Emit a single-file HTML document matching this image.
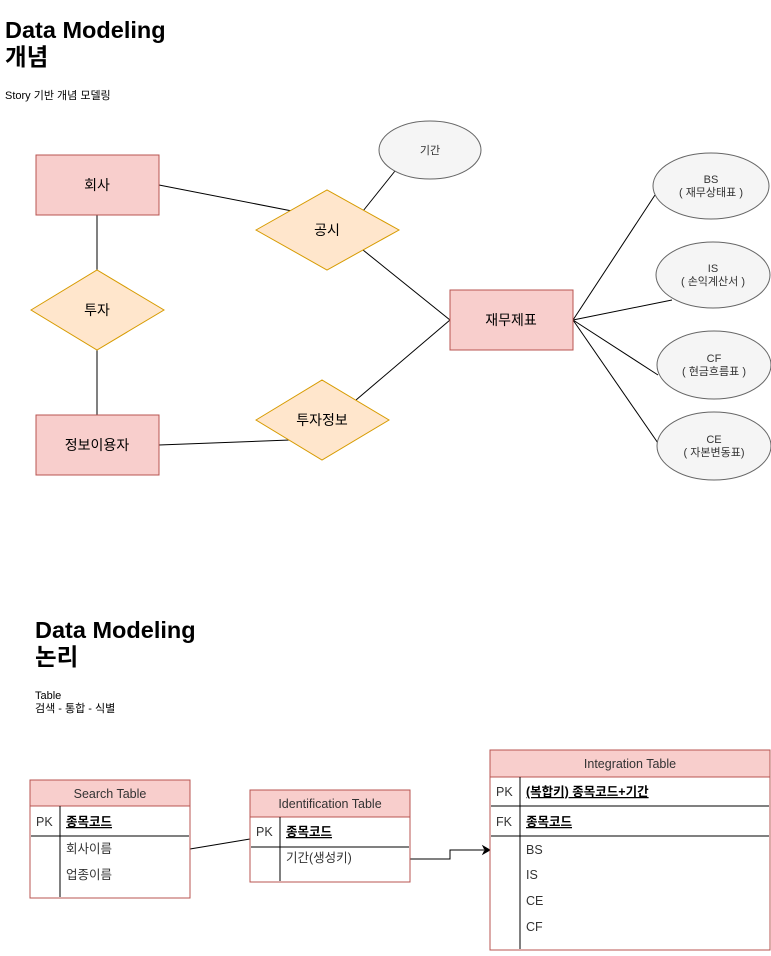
<!DOCTYPE html>
<html><head><meta charset="utf-8"><style>
body{margin:0;background:#fff;}
svg text{font-family:"Liberation Sans","Noto Sans CJK KR",sans-serif;}
</style></head><body>
<svg width="771" height="951" xmlns="http://www.w3.org/2000/svg">
<text x="5" y="38" font-size="23.5" font-weight="bold">Data Modeling</text>
<text x="5" y="65" font-size="23.5" font-weight="bold">개념</text>
<text x="5" y="99" font-size="11">Story 기반 개념 모델링</text>

<g stroke="#000" stroke-width="1" fill="none">
<line x1="159" y1="185" x2="292" y2="211"/>
<line x1="363" y1="211" x2="395" y2="171"/>
<line x1="363" y1="250" x2="450" y2="320"/>
<line x1="356" y1="400" x2="450" y2="320"/>
<line x1="159" y1="445" x2="290" y2="440"/>
<line x1="97" y1="215" x2="97" y2="270"/>
<line x1="97" y1="350" x2="97" y2="415"/>
<line x1="573" y1="320" x2="655" y2="195"/>
<line x1="573" y1="320" x2="672" y2="300"/>
<line x1="573" y1="320" x2="658" y2="375"/>
<line x1="573" y1="320" x2="660" y2="446"/>
</g>

<g fill="#f8cecc" stroke="#b85450">
<rect x="36" y="155" width="123" height="60"/>
<rect x="36" y="415" width="123" height="60"/>
<rect x="450" y="290" width="123" height="60"/>
</g>
<g fill="#ffe6cc" stroke="#d79b00">
<polygon points="31,310 97,270 164,310 97,350"/>
<polygon points="256,230 327,190 399,230 327,270"/>
<polygon points="256,420 322,380 389,420 322,460"/>
</g>
<g fill="#f5f5f5" stroke="#666">
<ellipse cx="430" cy="150" rx="51" ry="29"/>
<ellipse cx="711" cy="186" rx="58" ry="33"/>
<ellipse cx="713" cy="275" rx="57" ry="33"/>
<ellipse cx="714" cy="365" rx="57" ry="34"/>
<ellipse cx="714" cy="446" rx="57" ry="34"/>
</g>
<g font-size="14" text-anchor="middle">
<text x="97" y="190">회사</text>
<text x="97" y="450">정보이용자</text>
<text x="511" y="325">재무제표</text>
<text x="97" y="315">투자</text>
<text x="327" y="235">공시</text>
<text x="322" y="425">투자정보</text>
</g>
<g font-size="11" text-anchor="middle" fill="#333">
<text x="430" y="154">기간</text>
<text x="711" y="183">BS</text><text x="711" y="196">( 재무상태표 )</text>
<text x="713" y="272">IS</text><text x="713" y="285">( 손익계산서 )</text>
<text x="714" y="362">CF</text><text x="714" y="375">( 현금흐름표 )</text>
<text x="714" y="443">CE</text><text x="714" y="456">( 자본변동표)</text>
</g>

<text x="35" y="638" font-size="23.5" font-weight="bold">Data Modeling</text>
<text x="35" y="665" font-size="23.5" font-weight="bold">논리</text>
<text x="35" y="699" font-size="11">Table</text>
<text x="35" y="712" font-size="11">검색 - 통합 - 식별</text>

<line x1="190" y1="849" x2="250" y2="839" stroke="#000"/>
<polyline points="410,859 450,859 450,850 484,850" fill="none" stroke="#000"/>
<polygon points="490,850 483,846 485,850 483,854" fill="#000" stroke="#000"/>

<g stroke="#b85450" fill="#fff">
<rect x="30" y="780" width="160" height="118"/>
<rect x="30" y="780" width="160" height="26" fill="#f8cecc"/>
<rect x="250" y="790" width="160" height="92"/>
<rect x="250" y="790" width="160" height="27" fill="#f8cecc"/>
<rect x="490" y="750" width="280" height="200"/>
<rect x="490" y="750" width="280" height="27" fill="#f8cecc"/>
</g>
<g stroke="#000">
<line x1="31" y1="836" x2="189" y2="836"/>
<line x1="60" y1="806" x2="60" y2="897"/>
<line x1="251" y1="847" x2="409" y2="847"/>
<line x1="280" y1="817" x2="280" y2="881"/>
<line x1="491" y1="806" x2="769" y2="806"/>
<line x1="491" y1="836" x2="769" y2="836"/>
<line x1="520" y1="777" x2="520" y2="949"/>
</g>
<g font-size="12.5" fill="#333">
<text x="110" y="798" text-anchor="middle">Search Table</text>
<text x="330" y="808" text-anchor="middle">Identification Table</text>
<text x="630" y="768" text-anchor="middle">Integration Table</text>
<text x="36" y="826">PK</text>
<text x="66" y="826" text-decoration="underline" font-weight="bold" fill="#000">종목코드</text>
<text x="66" y="853">회사이름</text>
<text x="66" y="879">업종이름</text>
<text x="256" y="836">PK</text>
<text x="286" y="836" text-decoration="underline" font-weight="bold" fill="#000">종목코드</text>
<text x="286" y="862">기간(생성키)</text>
<text x="496" y="796">PK</text>
<text x="526" y="796" text-decoration="underline" font-weight="bold" fill="#000">(복합키) 종목코드+기간</text>
<text x="496" y="826">FK</text>
<text x="526" y="826" text-decoration="underline" font-weight="bold" fill="#000">종목코드</text>
<text x="526" y="854">BS</text>
<text x="526" y="879">IS</text>
<text x="526" y="905">CE</text>
<text x="526" y="931">CF</text>
</g>
</svg>
</body></html>
